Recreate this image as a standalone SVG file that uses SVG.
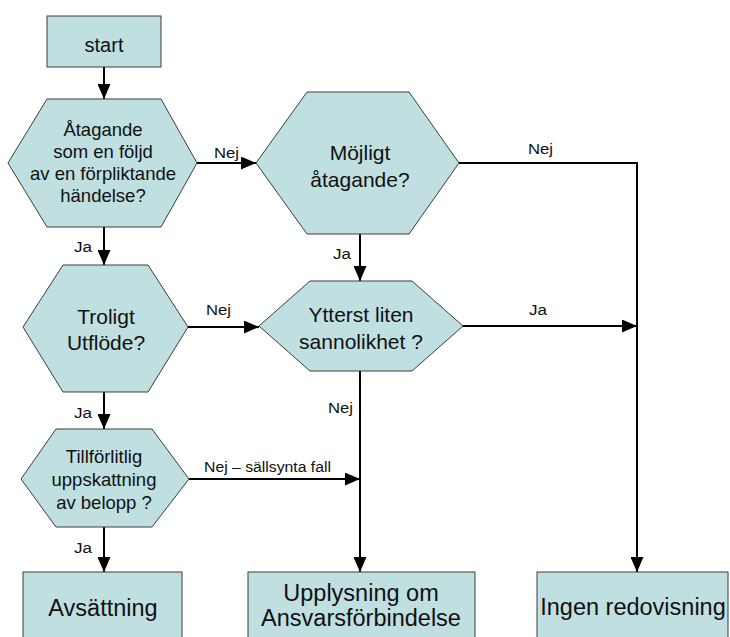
<svg xmlns="http://www.w3.org/2000/svg" width="730" height="637" viewBox="0 0 730 637">
<style>
.n{fill:#bfdfe0;stroke:#3c3c3c;stroke-width:1}
.t{font-family:"Liberation Sans",Arial,sans-serif;fill:#111;text-anchor:middle}
.l{font-family:"Liberation Sans",Arial,sans-serif;fill:#111;font-size:14px}
.c{fill:none;stroke:#000;stroke-width:2}
</style>
<defs>
<marker id="a" markerUnits="userSpaceOnUse" markerWidth="15" markerHeight="13" refX="15" refY="6.5" orient="auto">
<path d="M0,0 L15,6.5 L0,13 Z" fill="#000"/>
</marker>
</defs>
<rect width="730" height="637" fill="#fff"/>
<g id="connectors">
<path class="c" d="M104,67 V99" marker-end="url(#a)"/>
<path class="c" d="M197,163 H256" marker-end="url(#a)"/>
<path class="c" d="M104,227 V265" marker-end="url(#a)"/>
<path class="c" d="M360,234 V281" marker-end="url(#a)"/>
<path class="c" d="M459,163 H637 V572" marker-end="url(#a)"/>
<path class="c" d="M463,326 H637" marker-end="url(#a)"/>
<path class="c" d="M188,327 H259" marker-end="url(#a)"/>
<path class="c" d="M104,392 V429" marker-end="url(#a)"/>
<path class="c" d="M189,479 H360" marker-end="url(#a)"/>
<path class="c" d="M360,371 V572" marker-end="url(#a)"/>
<path class="c" d="M104,527 V572" marker-end="url(#a)"/>
<text class="l" x="214" y="158" textLength="25" lengthAdjust="spacingAndGlyphs">Nej</text>
<text class="l" x="74" y="252" textLength="18" lengthAdjust="spacingAndGlyphs">Ja</text>
<text class="l" x="206" y="315" textLength="25" lengthAdjust="spacingAndGlyphs">Nej</text>
<text class="l" x="74" y="418" textLength="18" lengthAdjust="spacingAndGlyphs">Ja</text>
<text class="l" x="204" y="472" textLength="127" lengthAdjust="spacingAndGlyphs">Nej – sällsynta fall</text>
<text class="l" x="74" y="553" textLength="18" lengthAdjust="spacingAndGlyphs">Ja</text>
<text class="l" x="333" y="259" textLength="18" lengthAdjust="spacingAndGlyphs">Ja</text>
<text class="l" x="328" y="413" textLength="25" lengthAdjust="spacingAndGlyphs">Nej</text>
<text class="l" x="528" y="154" textLength="25" lengthAdjust="spacingAndGlyphs">Nej</text>
<text class="l" x="529" y="315" textLength="18" lengthAdjust="spacingAndGlyphs">Ja</text>
</g>
<g id="start">
<rect class="n" x="47" y="16" width="114" height="51"/>
<text class="t" x="104" y="52" font-size="20">start</text>
</g>
<g id="atagande">
<polygon class="n" points="47,99 161,99 197,163 161,227 47,227 8,163"/>
<text class="t" font-size="18.5"><tspan x="103" y="136">Åtagande</tspan><tspan x="103" y="158">som en följd</tspan><tspan x="103" y="180">av en förpliktande</tspan><tspan x="103" y="202">händelse?</tspan></text>
</g>
<g id="mojligt">
<polygon class="n" points="307,92 409,92 459,163 409,234 307,234 256,163"/>
<text class="t" font-size="21"><tspan x="360" y="160">Möjligt</tspan><tspan x="360" y="187">åtagande?</tspan></text>
</g>
<g id="troligt">
<polygon class="n" points="63,265 148,265 188,327 148,392 63,392 23,327"/>
<text class="t" font-size="21"><tspan x="106" y="324">Troligt</tspan><tspan x="106" y="350">Utflöde?</tspan></text>
</g>
<g id="ytterst">
<polygon class="n" points="310,281 412,281 463,326 412,371 310,371 259,326"/>
<text class="t" font-size="21"><tspan x="361" y="322">Ytterst liten</tspan><tspan x="361" y="349">sannolikhet ?</tspan></text>
</g>
<g id="tillforlitlig">
<polygon class="n" points="56,429 152,429 189,479 152,527 56,527 21,479"/>
<text class="t" font-size="18.5"><tspan x="104" y="463">Tillförlitlig</tspan><tspan x="104" y="486">uppskattning</tspan><tspan x="104" y="509">av belopp ?</tspan></text>
</g>
<g id="avsattning">
<rect class="n" x="23" y="572" width="159" height="70"/>
<text class="t" x="103" y="616" font-size="23.5">Avsättning</text>
</g>
<g id="upplysning">
<rect class="n" x="248" y="572" width="227" height="70"/>
<text class="t" font-size="23.5"><tspan x="361" y="601">Upplysning om</tspan><tspan x="361" y="626">Ansvarsförbindelse</tspan></text>
</g>
<g id="ingen">
<rect class="n" x="537" y="572" width="191" height="70"/>
<text class="t" x="633" y="615" font-size="23.5">Ingen redovisning</text>
</g>
</svg>
